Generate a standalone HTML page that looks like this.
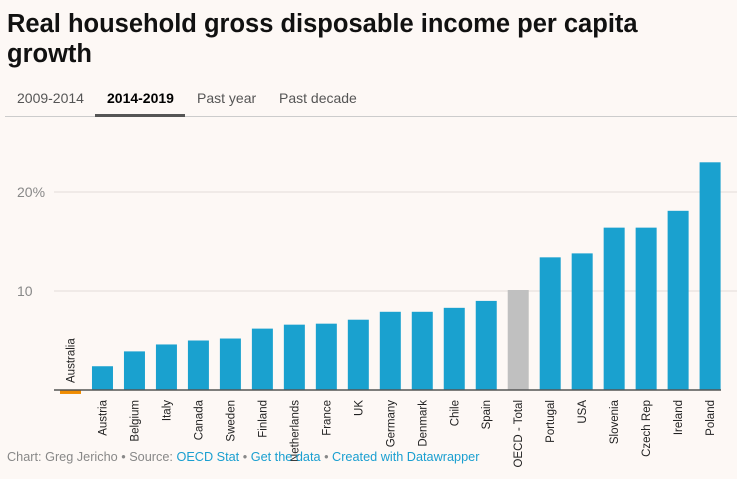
<!DOCTYPE html>
<html><head><meta charset="utf-8"><style>
body{margin:0;background:#fdf8f5;font-family:"Liberation Sans",Arial,sans-serif;}
#wrap{position:relative;width:737px;height:479px;overflow:hidden}
h1{position:absolute;left:7px;top:9px;margin:0;font-size:25.5px;line-height:30px;font-weight:bold;color:#111;width:660px}
.tab{position:absolute;top:90px;font-size:14px;color:#555}
#foot{position:absolute;left:7px;top:450px;font-size:12.7px;color:#888}
#foot a{color:#1a9fd0;text-decoration:none}
</style></head><body><div id="wrap">
<h1>Real household gross disposable income per capita growth</h1>
<div class="tab" style="left:17px">2009-2014</div>
<div class="tab" style="left:107px;color:#000;font-weight:bold">2014-2019</div>
<div class="tab" style="left:197px">Past year</div>
<div class="tab" style="left:279px">Past decade</div>
<div style="position:absolute;left:5px;top:116px;width:732px;height:1px;background:#ccc"></div>
<div style="position:absolute;left:95px;top:114px;width:90px;height:3px;background:#555"></div>
<svg id="chart" width="737" height="479" style="position:absolute;left:0;top:0"></svg>
<div id="foot">Chart: Greg Jericho • Source: <a>OECD Stat</a> • <a>Get the data</a> • <a>Created with Datawrapper</a></div>
</div>
<script>
const categories=["Australia","Austria","Belgium","Italy","Canada","Sweden","Finland","Netherlands","France","UK","Germany","Denmark","Chile","Spain","OECD - Total","Portugal","USA","Slovenia","Czech Rep","Ireland","Poland"];
const values=[-0.4,2.4,3.9,4.6,5.0,5.2,6.2,6.6,6.7,7.1,7.9,7.9,8.3,9.0,10.1,13.4,13.8,16.4,16.4,18.1,23.0];
const tickValues=[10,20];
const tickLabels=["10","20%"];
const NS="http://www.w3.org/2000/svg";
const svg=document.getElementById('chart');
const y=v=>390-v*9.9;
const x=i=>70.5+i*31.98;
function mk(t,a){const e=document.createElementNS(NS,t);for(const k in a)e.setAttribute(k,a[k]);svg.appendChild(e);return e;}
tickValues.forEach((t,i)=>{
 const l=mk('line',{x1:54,x2:737,y1:y(t),y2:y(t),stroke:'#e2ddd9','stroke-width':1});
 
 
 const tx=mk('text',{x:17,y:y(t)+5,'font-size':14,fill:'#888','font-family':'Liberation Sans, sans-serif'});
 tx.textContent=tickLabels[i];
 
 
});
categories.forEach((c,i)=>{
 const v=values[i];
 const col=c==="Australia"?'#f08c00':(c==="OECD - Total"?'#c0c0c0':'#1aa1cf');
 const r=mk('rect',{x:x(i)-10.5,width:21,y:Math.min(y(v),390),height:Math.abs(y(v)-390),fill:col});
 
 
 const neg=v<0;
 const ty=neg?383:400;
 const t=mk('text',{x:0,y:0,'font-size':11.5,fill:'#222','font-family':'Liberation Sans, sans-serif','text-anchor':'end',transform:`translate(${x(i)+4},${ty}) rotate(-90)`});
 if(neg)t.setAttribute('text-anchor','start');
 t.textContent=c;
 
 
});
const ax=mk('line',{x1:54,x2:721,y1:390,y2:390,stroke:'#555','stroke-width':1.5});


</script></body></html>
